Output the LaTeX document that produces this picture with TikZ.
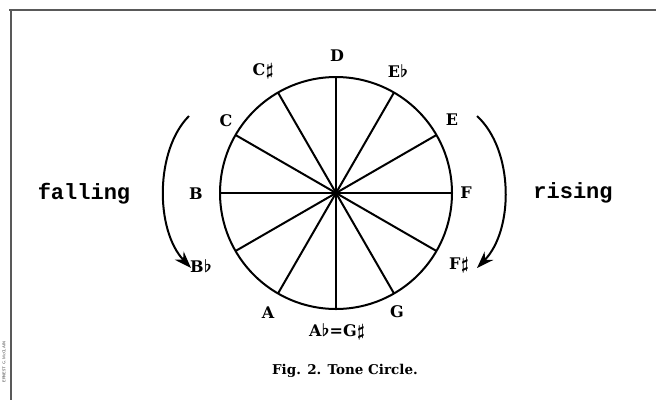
\documentclass[tikz,border=0pt]{standalone}
\usepackage{fontspec}
\setmainfont{DejaVu Serif}
\newfontfamily\monofont{Liberation Mono}
\usetikzlibrary{arrows.meta}
\newcommand{\shp}{\kern0.5pt$\sharp$}
\newcommand{\flt}{\kern0.5pt$\flat$}
\begin{document}
\begin{tikzpicture}[x=1pt,y=-1pt,
  note/.style={font=\fontsize{16}{16}\selectfont\bfseries\boldmath, inner sep=0pt},
  word/.style={font=\fontsize{22}{22}\selectfont\monofont\bfseries, inner sep=0pt},
  spoke/.style={line width=2pt},
  turn/.style={line width=2pt, -{Stealth[length=17pt,width=12pt]}},
  frame/.style={line width=1.5pt, draw=black!65}]
\useasboundingbox (0,0) rectangle (656,400);
% frame
\coordinate (fa) at (9,10);
\coordinate (fb) at (656,10);
\coordinate (fc) at (11,10);
\coordinate (fd) at (11,400);
\draw[frame] (fa) -- (fb);
\draw[frame] (fc) -- (fd);
\node[rotate=90, font=\fontsize{4}{4}\selectfont\sffamily, inner sep=0pt, text=black!80] (credit) at (4,362) {ERNEST G. McCLAIN};
% circle
\coordinate (o) at (336,193);
\draw[spoke] (o) circle[radius=116];
\foreach \a in {0,30,...,330}{
  \draw[spoke] (o) -- ++(\a:116 and -116);
}
% labels
\node[note] (D) at (337,56) {D};
\node[note] (Cs) at (263,71) {C\shp};
\node[note] (Eb) at (398,71) {E\flt};
\node[note] (C) at (226,121) {C};
\node[note] (E) at (452,120) {E};
\node[note] (B) at (196,194) {B};
\node[note] (F) at (466,193) {F};
\node[note] (Bb) at (201,266) {B\flt};
\node[note] (Fs) at (459,265) {F\shp};
\node[note] (A) at (268,313) {A};
\node[note] (G) at (397,312) {G};
\node[note] (AbGs) at (337,332) {A\flt=G\shp};
% words
\node[word] (fall) at (84,194) {falling};
\node[word] (rise) at (573,193) {rising};
% arrows
\coordinate (l1) at (189,116);
\coordinate (l2) at (191,268);
\coordinate (r1) at (477,116);
\coordinate (r2) at (477,268);
\draw[turn] (l1) .. controls (155,150) and (155,230) .. (l2);
\draw[turn] (r1) .. controls (514,150) and (514,230) .. (r2);
% caption
\node[font=\fontsize{13.5}{13.5}\selectfont\bfseries, inner sep=0pt] (cap) at (345,371) {Fig. 2. Tone Circle.};
\end{tikzpicture}
\end{document}
